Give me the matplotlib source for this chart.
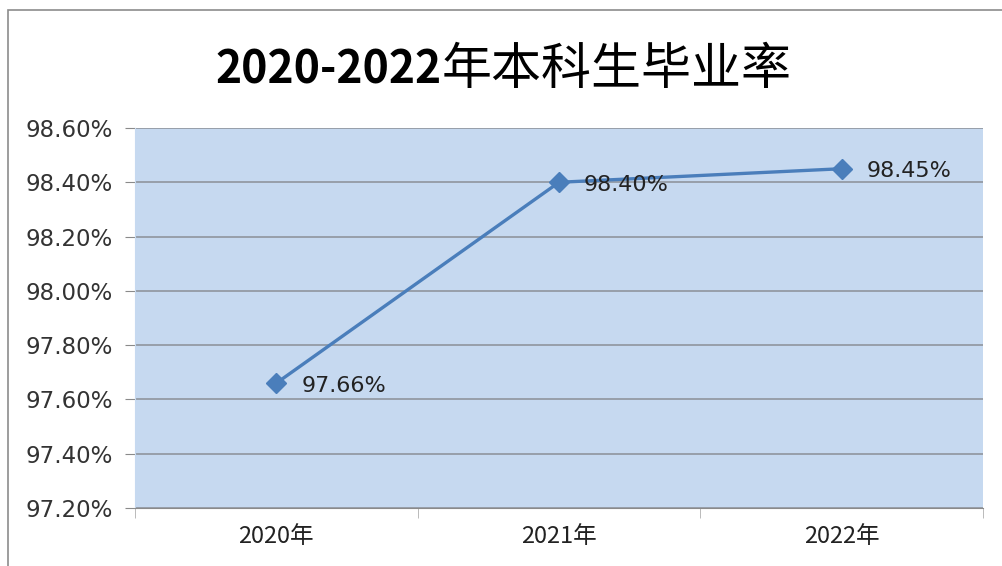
import matplotlib.pyplot as plt
from matplotlib.patches import Rectangle

years = ['2020年', '2021年', '2022年']
rates = [97.66, 98.40, 98.45]
yticks = [97.20, 97.40, 97.60, 97.80, 98.00, 98.20, 98.40, 98.60]

fig = plt.figure(figsize=(10.02, 5.66), dpi=100)
fig.patch.set_facecolor('white')

# outer chart border (only top and left visible in the reference)
fig.patches.append(Rectangle((8 / 1002, -0.2), 1.2, 1.2 - 10 / 566,
                             transform=fig.transFigure, fill=False,
                             edgecolor='#8c8c8c', linewidth=1.2))

ax = fig.add_axes([135 / 1002, 1 - 508 / 566, (983 - 135) / 1002, (508 - 128) / 566])
ax.set_facecolor('#c6d9f0')

x = list(range(len(years)))
ax.plot(x, rates, color='#4a7ebb', linewidth=2.4, marker='D', markersize=10,
        markerfacecolor='#4a7ebb', markeredgecolor='#4a7ebb', zorder=3)

for xi, v in zip(x, rates):
    ax.annotate(f'{v:.2f}%', (xi, v), xytext=(18, -2), textcoords='offset points',
                ha='left', va='center', fontsize=16, color='#222222',
                family='DejaVu Sans', zorder=4)

ax.set_ylim(97.2, 98.6)
ax.set_yticks(yticks)
ax.set_yticklabels([f'{t:.2f}%' for t in yticks], fontsize=16.5, color='#333333',
                   family='DejaVu Sans')
ax.yaxis.grid(True, color='#8a8f96', linewidth=1.1)
ax.set_axisbelow(True)
ax.tick_params(axis='y', length=7, color='#8a8a8a', pad=9)

ax.set_xlim(-0.5, 2.5)
ax.set_xticks(x)
ax.set_xticklabels(years, fontsize=17, color='#222222', family='Noto Sans CJK SC')
ax.set_xticks([-0.5, 0.5, 1.5, 2.5], minor=True)
ax.tick_params(axis='x', which='major', length=0, pad=12)
ax.tick_params(axis='x', which='minor', length=7, color='#b0b0b0')

for s in ['top', 'right']:
    ax.spines[s].set_visible(False)
ax.spines['left'].set_color('#c6d9f0')
ax.spines['bottom'].set_color('#8a8a8a')

# title: bold digits, regular chinese characters
fig.text(442 / 1002, 1 - 70 / 566, '2020-2022', ha='right', va='center',
         fontsize=32, fontweight='bold', family='Noto Sans CJK SC', color='black')
fig.text(442 / 1002, 1 - 70 / 566, '年本科生毕业率', ha='left', va='center',
         fontsize=36, family='Noto Sans CJK SC', color='black')

fig.savefig('out.png', dpi=100)
